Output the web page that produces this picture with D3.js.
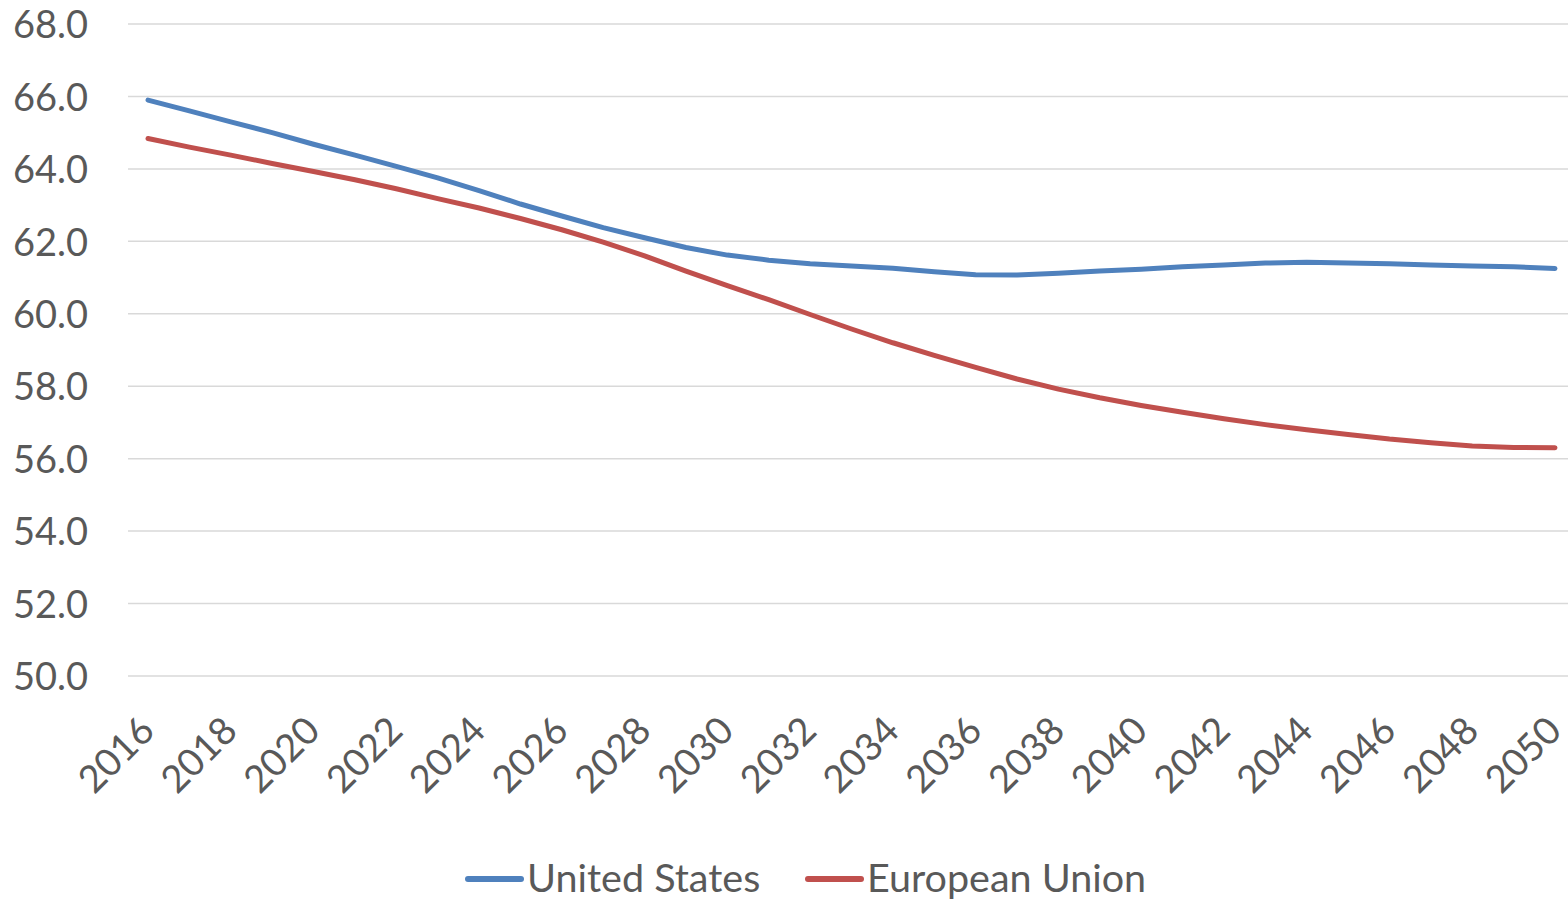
<!DOCTYPE html>
<html>
<head>
<meta charset="utf-8">
<script src="https://cdn.jsdelivr.net/npm/d3@7"></script>
<style>
  html, body { margin: 0; padding: 0; background: #ffffff; }
  svg { display: block; }
  text { font-family: Lato, "Open Sans", sans-serif; fill: #595959; }
</style>
</head>
<body>
<svg id="chart" width="1568" height="900"></svg>
<script>
// Projected values by year
const years = d3.range(2016, 2051);
const unitedStates = [
  65.90, 65.60, 65.30, 65.00, 64.68, 64.38, 64.07, 63.75, 63.40, 63.03,
  62.70, 62.38, 62.10, 61.83, 61.62, 61.48, 61.38, 61.32, 61.26, 61.16,
  61.08, 61.07, 61.12, 61.18, 61.23, 61.30, 61.35, 61.40, 61.42, 61.40,
  61.38, 61.35, 61.32, 61.30, 61.25
];
const europeanUnion = [
  64.84, 64.60, 64.38, 64.15, 63.93, 63.70, 63.45, 63.18, 62.92, 62.63,
  62.32, 61.98, 61.60, 61.18, 60.78, 60.39, 59.98, 59.58, 59.20, 58.85,
  58.52, 58.20, 57.92, 57.68, 57.47, 57.28, 57.10, 56.94, 56.80, 56.67,
  56.54, 56.44, 56.35, 56.31, 56.30
];
const yTicks = [50, 52, 54, 56, 58, 60, 62, 64, 66, 68];
const xTickLabels = d3.range(2016, 2051, 2);
const seriesNames = ["United States", "European Union"];
const seriesColors = ["#4F81BD", "#C0504D"];

const svg = d3.select("#chart");

const plotLeft = 128, plotRight = 1568;
const x = d3.scalePoint().domain(years).range([148, 1555]);
const y = d3.scaleLinear().domain([50, 68]).range([676, 24]);

// Horizontal gridlines
svg.append("g")
  .selectAll("line")
  .data(yTicks)
  .join("line")
  .attr("x1", plotLeft)
  .attr("x2", plotRight)
  .attr("y1", d => y(d))
  .attr("y2", d => y(d))
  .attr("stroke", "#D9D9D9")
  .attr("stroke-width", 1.5);

// Y axis labels
const yAxis = d3.axisLeft(y).tickValues(yTicks).tickFormat(d3.format(".1f")).tickSize(0).tickPadding(0);
const yG = svg.append("g").attr("transform", "translate(88,0)").call(yAxis);
yG.select(".domain").remove();
yG.selectAll("text")
  .attr("font-size", 38)
  .attr("fill", "#595959")
  .attr("font-family", "Lato, 'Open Sans', sans-serif")
  .attr("dy", "0.36em");

// X axis labels, rotated
const xAxis = d3.axisBottom(x).tickValues(xTickLabels).tickSize(0).tickPadding(0);
const xG = svg.append("g").attr("transform", "translate(0,676)").call(xAxis);
xG.select(".domain").remove();
xG.selectAll(".tick text")
  .attr("font-size", 38)
  .attr("fill", "#595959")
  .attr("font-family", "Lato, 'Open Sans', sans-serif")
  .attr("text-anchor", "end")
  .attr("dy", 0)
  .attr("y", 0)
  .attr("transform", "translate(8,57) rotate(-45)");

// Series lines
const series = [unitedStates, europeanUnion];
const line = d3.line()
  .x((d, i) => x(years[i]))
  .y(d => y(d));

svg.append("g")
  .selectAll("path")
  .data(series)
  .join("path")
  .attr("d", d => line(d))
  .attr("fill", "none")
  .attr("stroke", (d, i) => seriesColors[i])
  .attr("stroke-width", 5)
  .attr("stroke-linejoin", "round")
  .attr("stroke-linecap", "round");

// Legend
const legendItems = [
  { name: seriesNames[0], color: seriesColors[0], x0: 468 },
  { name: seriesNames[1], color: seriesColors[1], x0: 808 }
];
const legend = svg.append("g");
const item = legend.selectAll("g")
  .data(legendItems)
  .join("g")
  .attr("transform", d => `translate(${d.x0},879)`);
item.append("line")
  .attr("x1", 0).attr("x2", 53)
  .attr("y1", 0).attr("y2", 0)
  .attr("stroke", d => d.color)
  .attr("stroke-width", 6)
  .attr("stroke-linecap", "round");
item.append("text")
  .attr("x", 59)
  .attr("y", 13)
  .attr("font-size", 39.5)
  .text(d => d.name);
</script>
</body>
</html>
